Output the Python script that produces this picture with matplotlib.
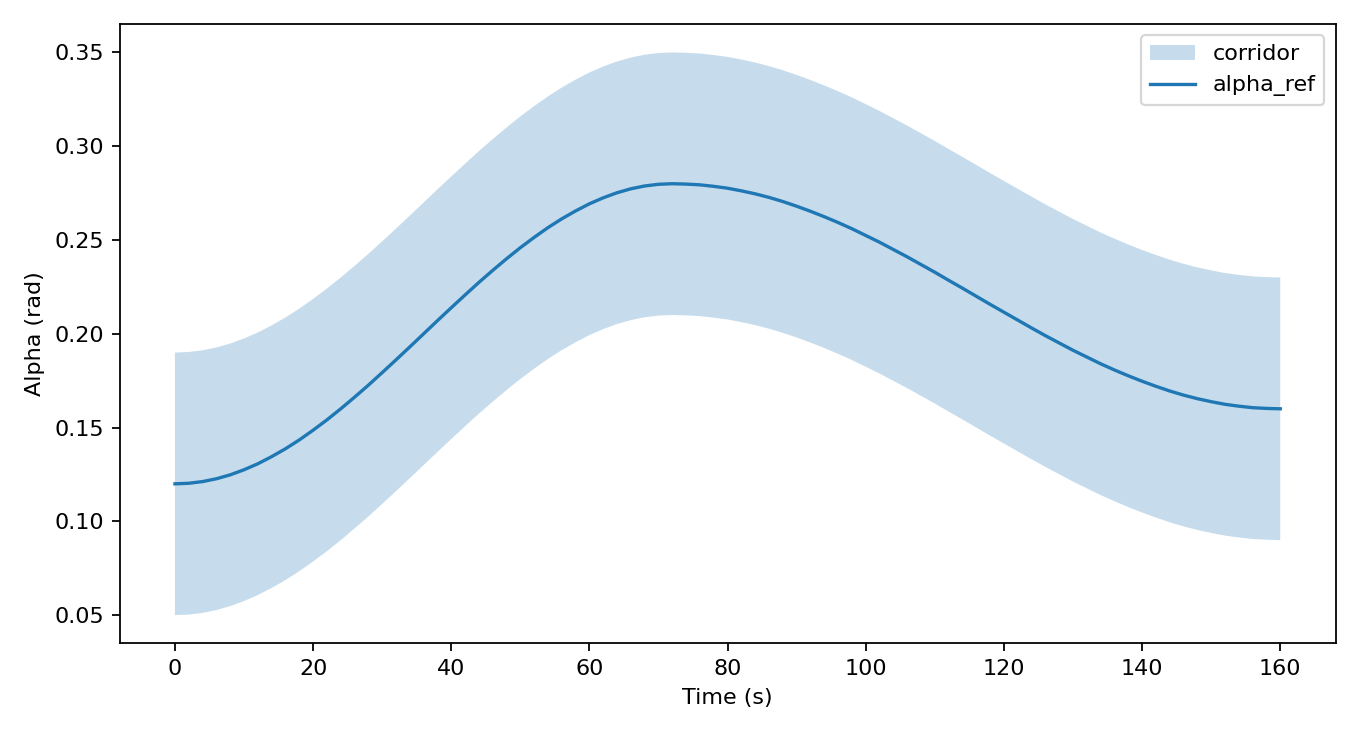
import numpy as np
import matplotlib
matplotlib.use("Agg")
import matplotlib.pyplot as plt

# reference alpha, every 2 s
time_s = list(range(0, 162, 2))
alpha_ref = [0.1200, 0.1203, 0.1212, 0.1227, 0.1248, 0.1275, 0.1307, 0.1345, 0.1387,
             0.1434, 0.1486, 0.1541, 0.1600, 0.1662, 0.1726, 0.1793, 0.1861, 0.1930,
             0.2000, 0.2070, 0.2139, 0.2207, 0.2274, 0.2338, 0.2400, 0.2459, 0.2514,
             0.2566, 0.2613, 0.2655, 0.2693, 0.2725, 0.2752, 0.2773, 0.2788, 0.2797,
             0.2800,
             0.2798, 0.2794, 0.2786, 0.2776, 0.2762, 0.2746, 0.2727, 0.2705, 0.2680,
             0.2653, 0.2624, 0.2593, 0.2560, 0.2524, 0.2488, 0.2449, 0.2410, 0.2369,
             0.2328, 0.2285, 0.2243, 0.2200, 0.2157, 0.2115, 0.2073, 0.2031, 0.1990,
             0.1951, 0.1912, 0.1876, 0.1840, 0.1807, 0.1776, 0.1747, 0.1720, 0.1695,
             0.1673, 0.1654, 0.1638, 0.1624, 0.1614, 0.1606, 0.1602, 0.1600]
corridor_half = 0.07

t = np.array(time_s)
a = np.array(alpha_ref)

fig, ax = plt.subplots(figsize=(8.5, 4.6), dpi=160)
fig.subplots_adjust(left=0.088, right=0.982, top=0.967, bottom=0.126)

ax.fill_between(t, a - corridor_half, a + corridor_half, alpha=0.25, linewidth=0, label="corridor")
ax.plot(t, a, label="alpha_ref")
ax.set_xlabel("Time (s)")
ax.set_ylabel("Alpha (rad)")
ax.legend(loc="upper right")

fig.savefig("out.png", dpi=160)
